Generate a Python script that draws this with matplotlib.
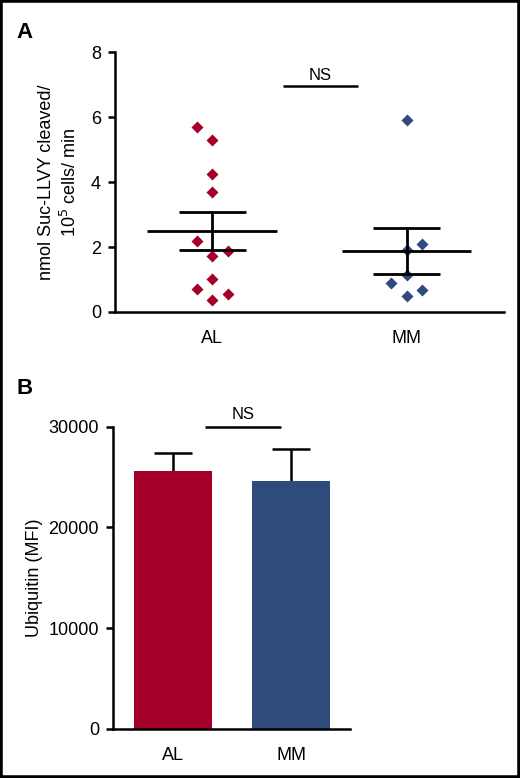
import matplotlib
matplotlib.use("Agg")
import matplotlib.pyplot as plt
import numpy as np
from matplotlib.patches import Rectangle

plt.rcParams['font.family'] = ['Liberation Sans', 'DejaVu Sans']

# panel A - proteasome activity, individual patients
groups = ["AL", "MM"]
al_vals = [5.68, 5.28, 4.26, 3.70, 2.19, 1.89, 1.73, 1.02, 0.70, 0.55, 0.36]
al_cols = [-1, 0, 0, 0, -1, 1, 0, 0, -1, 1, 0]
mm_vals = [5.91, 2.08, 1.91, 1.15, 0.88, 0.69, 0.50]
mm_cols = [0, 1, 0, 0, -1, 1, 0]

# panel B - ubiquitin MFI
ubi_mean = [25600, 24600]
ubi_err = [1750, 3200]

red = "#a5002a"
blue = "#2f4b7c"
fs = 13

fig = plt.figure(figsize=(5.2, 7.78), dpi=100)

# ---- A ----
ax1 = fig.add_axes([0.221, 0.599, 0.748, 0.334])
for i, (vals, cols, c) in enumerate([(al_vals, al_cols, red), (mm_vals, mm_cols, blue)]):
    v = np.array(vals)
    x = i + np.array(cols) * 0.08
    ax1.plot(x, v, 'D', color=c, ms=6.5, mec='none', zorder=2)
    m = v.mean()
    sem = v.std(ddof=1) / np.sqrt(len(v))
    ax1.hlines(m, i - 0.333, i + 0.333, color='black', lw=2, zorder=3)
    ax1.hlines([m - sem, m + sem], i - 0.172, i + 0.172, color='black', lw=2, zorder=3)
    ax1.vlines(i, m - sem, m + sem, color='black', lw=2, zorder=3)

ax1.hlines(6.95, 0.362, 0.751, color='black', lw=1.8, clip_on=False)
ax1.text(0.557, 7.05, "NS", ha='center', va='bottom', fontsize=12)

ax1.set_xlim(-0.5, 1.5)
ax1.set_ylim(0, 8)
ax1.set_yticks([0, 2, 4, 6, 8])
ax1.set_xticks([0, 1])
ax1.set_xticklabels(groups)
ax1.set_ylabel("nmol Suc-LLVY cleaved/\n10$^5$ cells/ min", fontsize=fs,
               labelpad=8, linespacing=1.3)

# ---- B ----
ax2 = fig.add_axes([0.217, 0.0634, 0.457, 0.388])
xb = np.arange(len(groups))
ax2.bar(xb, ubi_mean, width=0.66, color=[red, blue], zorder=2)
ax2.errorbar(xb, ubi_mean, yerr=[[0, 0], ubi_err], fmt='none', ecolor='black',
             elinewidth=1.8, capsize=0, zorder=1)
for xi, m, e in zip(xb, ubi_mean, ubi_err):
    ax2.hlines(m + e, xi - 0.16, xi + 0.16, color='black', lw=1.8)
ax2.hlines(30000, 0.273, 0.91, color='black', lw=1.8, clip_on=False)
ax2.text(0.59, 30500, "NS", ha='center', va='bottom', fontsize=12)

ax2.set_xlim(-0.507, 1.5)
ax2.set_ylim(0, 30000)
ax2.set_yticks([0, 10000, 20000, 30000])
ax2.set_xticks(xb)
ax2.set_xticklabels(groups)
ax2.set_ylabel("Ubiquitin (MFI)", fontsize=fs, labelpad=4)

for ax in (ax1, ax2):
    for s in ('top', 'right'):
        ax.spines[s].set_visible(False)
    for s in ('left', 'bottom'):
        ax.spines[s].set_linewidth(1.8)
    ax.tick_params(axis='y', length=5, width=1.8, labelsize=fs, pad=5)
    ax.tick_params(axis='x', length=0, labelsize=fs, pad=13)

fig.text(0.032, 0.958, "A", fontsize=16, fontweight='bold', va='center')
fig.text(0.032, 0.501, "B", fontsize=16, fontweight='bold', va='center')

# black frame around the figure
fig.patches.append(Rectangle((0, 0), 1, 1, transform=fig.transFigure,
                             fill=False, edgecolor='black', lw=4))

fig.savefig("out.png", dpi=100)
